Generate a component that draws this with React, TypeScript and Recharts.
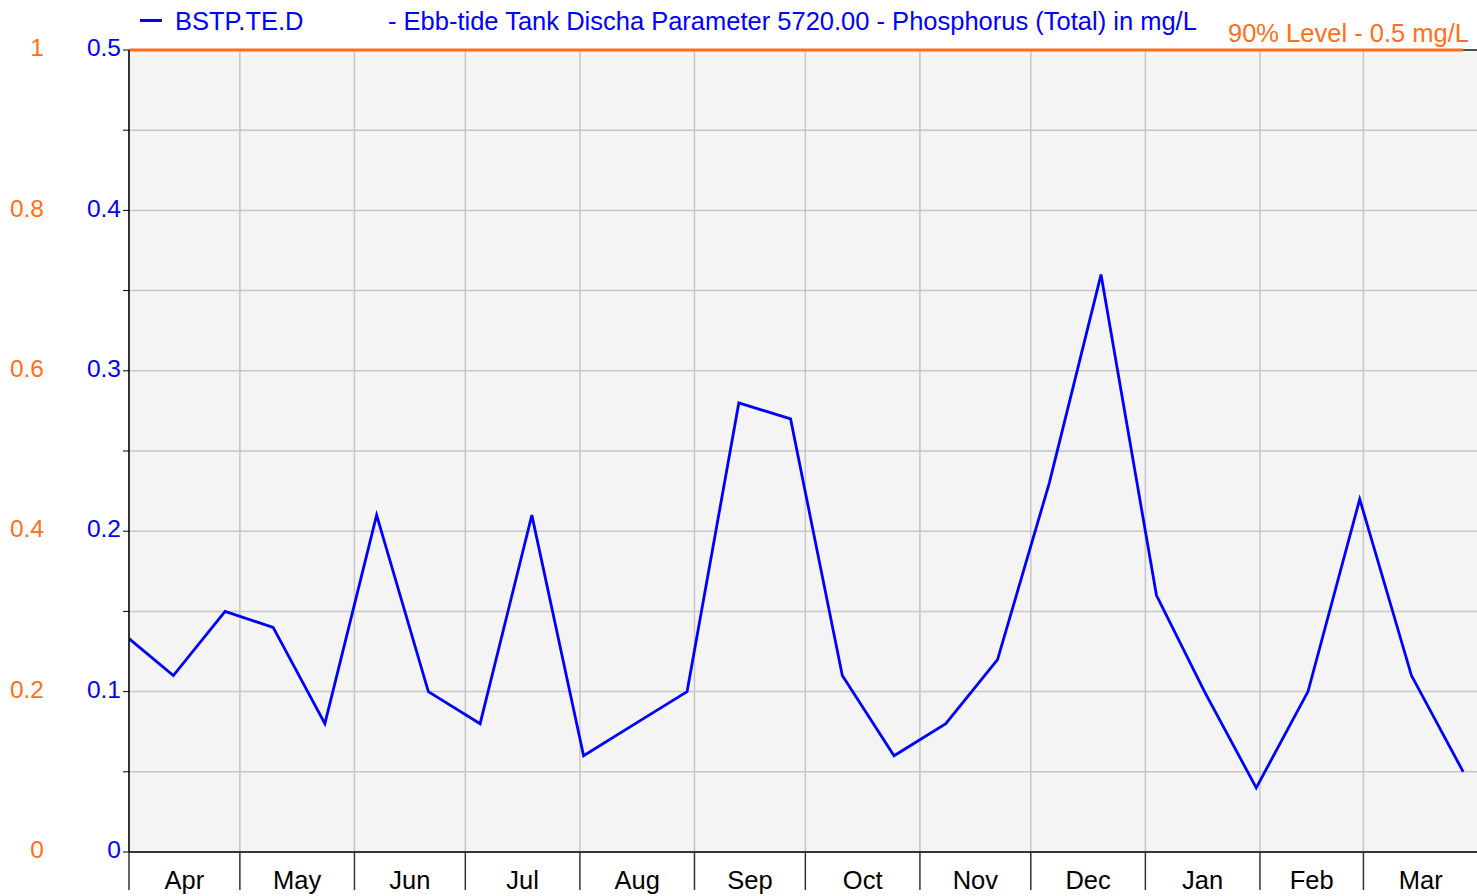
import React from 'react';
import {
  LineChart,
  Line,
  XAxis,
  YAxis,
  CartesianGrid,
  ReferenceLine,
} from 'recharts';

// ---- data ----
const sampleDates = [
  '2018-04-01', '2018-04-13', '2018-04-27', '2018-05-10', '2018-05-24',
  '2018-06-07', '2018-06-21', '2018-07-05', '2018-07-19', '2018-08-02',
  '2018-08-16', '2018-08-30', '2018-09-13', '2018-09-27', '2018-10-11',
  '2018-10-25', '2018-11-08', '2018-11-22', '2018-12-06', '2018-12-20',
  '2019-01-04', '2019-01-17', '2019-01-31', '2019-02-14', '2019-02-28',
  '2019-03-14', '2019-03-28',
];
const phosphorus = [
  0.133, 0.11, 0.15, 0.14, 0.08,
  0.21, 0.1, 0.08, 0.21, 0.06,
  0.08, 0.1, 0.28, 0.27, 0.11,
  0.06, 0.08, 0.12, 0.23, 0.36,
  0.16, 0.1, 0.04, 0.1, 0.22,
  0.11, 0.05,
];
const monthStarts = [
  '2018-04-01', '2018-05-01', '2018-06-01', '2018-07-01', '2018-08-01',
  '2018-09-01', '2018-10-01', '2018-11-01', '2018-12-01', '2019-01-01',
  '2019-02-01', '2019-03-01', '2019-04-01',
];
const monthLabels = ['Apr', 'May', 'Jun', 'Jul', 'Aug', 'Sep', 'Oct', 'Nov', 'Dec', 'Jan', 'Feb', 'Mar'];
const blueTicks = [0, 0.05, 0.1, 0.15, 0.2, 0.25, 0.3, 0.35, 0.4, 0.45, 0.5];
const orangeTickLabels = ['0', '0.2', '0.4', '0.6', '0.8', '1'];
const limitValue = 0.5;
const seriesName = 'BSTP.TE.D';
const seriesDesc = '- Ebb-tide Tank Discha Parameter 5720.00 - Phosphorus (Total) in mg/L';
const limitLabel = '90% Level - 0.5 mg/L';

// ---- helpers ----
const ORIGIN = Date.UTC(2018, 3, 1);
const toDay = (s: string) => {
  const [y, m, d] = s.split('-').map(Number);
  return Math.round((Date.UTC(y, m - 1, d) - ORIGIN) / 86400000);
};
const rows = sampleDates.map((s, i) => ({ d: toDay(s), v: phosphorus[i] }));
const boundaryDays = monthStarts.map(toDay);
const midDays = monthLabels.map((_, i) => (boundaryDays[i] + boundaryDays[i + 1]) / 2);
const xMax = boundaryDays[boundaryDays.length - 1];
const lastDay = rows[rows.length - 1].d;

const BLUE = '#0000ff';
const ORANGE = '#ff6f1a';
const FONT = '"Liberation Sans", Arial, sans-serif';
const TICK_FS = 24.5;
const LEG_FS = 25.5;

const DualTick = (props: any) => {
  const { x, y, payload } = props;
  const v = payload.value as number;
  const k = Math.round(v * 100);
  if (k % 10 !== 0) return <g />;
  const idx = k / 10;
  return (
    <g>
      <text x={x} y={y} dy="0.25em" textAnchor="end" fill={BLUE} fontSize={TICK_FS} fontFamily={FONT}>
        {String(v)}
      </text>
      <text x={44} y={y} dy="0.25em" textAnchor="end" fill={ORANGE} fontSize={TICK_FS} fontFamily={FONT}>
        {orangeTickLabels[idx]}
      </text>
    </g>
  );
};

export default function App() {
  return (
    <div style={{ position: 'relative', width: 1478, height: 896, fontFamily: FONT }}>
      <style>{'html,body{margin:0;padding:0;overflow:hidden;background:#fff}'}</style>
      <LineChart
        width={1478}
        height={896}
        data={rows}
        margin={{ top: 50, right: 0, bottom: 0, left: 0 }}
        style={{ fontFamily: FONT }}
      >
        <CartesianGrid
          xAxisId="b"
          yAxisId="blue"
          stroke="#c6c6c6"
          strokeWidth={1.5}
          fill="#f4f4f4"
        />
        <XAxis
          xAxisId="b"
          dataKey="d"
          type="number"
          domain={[0, xMax]}
          ticks={boundaryDays}
          interval={0}
          height={1}
          tickSize={38}
          tickFormatter={() => ''}
          axisLine={{ stroke: '#000', strokeWidth: 1.5 }}
          tickLine={{ stroke: '#333', strokeWidth: 1.5 }}
          allowDataOverflow
        />
        <XAxis
          xAxisId="m"
          dataKey="d"
          type="number"
          domain={[0, xMax]}
          ticks={midDays}
          interval={0}
          height={43}
          tickSize={0}
          tickMargin={18}
          axisLine={false}
          tickLine={false}
          tickFormatter={(_v: number, i: number) => monthLabels[i]}
          tick={{ fill: '#000', fontSize: LEG_FS, fontFamily: FONT }}
        />
        <YAxis
          yAxisId="blue"
          domain={[0, 0.5]}
          ticks={blueTicks}
          interval={0}
          width={129}
          tickSize={6}
          tickMargin={2}
          axisLine={{ stroke: '#000', strokeWidth: 1.5 }}
          tickLine={{ stroke: '#000' }}
          tick={<DualTick />}
        />
        <ReferenceLine xAxisId="b" yAxisId="blue" y={limitValue} stroke="#222" strokeWidth={1.5} />
        <Line
          xAxisId="b"
          yAxisId="blue"
          dataKey="v"
          type="linear"
          stroke={BLUE}
          strokeWidth={2.8}
          dot={false}
          activeDot={false}
          isAnimationActive={false}
        />
        <ReferenceLine
          xAxisId="b"
          yAxisId="blue"
          segment={[{ x: 0, y: limitValue }, { x: lastDay, y: limitValue }]}
          stroke={ORANGE}
          strokeWidth={3}
          ifOverflow="visible"
        />
      </LineChart>
      <div style={{ position: 'absolute', left: 140, top: 19, width: 22, height: 2.5, background: BLUE }} />
      <div
        style={{
          position: 'absolute', left: 175, top: 9, fontSize: LEG_FS, lineHeight: `${LEG_FS}px`,
          color: BLUE, whiteSpace: 'nowrap',
        }}
      >
        {seriesName}
      </div>
      <div
        style={{
          position: 'absolute', left: 388, top: 9, fontSize: LEG_FS, lineHeight: `${LEG_FS}px`,
          color: BLUE, whiteSpace: 'nowrap',
        }}
      >
        {seriesDesc}
      </div>
      <div
        style={{
          position: 'absolute', left: 1228, top: 21, fontSize: LEG_FS, lineHeight: `${LEG_FS}px`,
          color: ORANGE, whiteSpace: 'nowrap',
        }}
      >
        {limitLabel}
      </div>
    </div>
  );
}
